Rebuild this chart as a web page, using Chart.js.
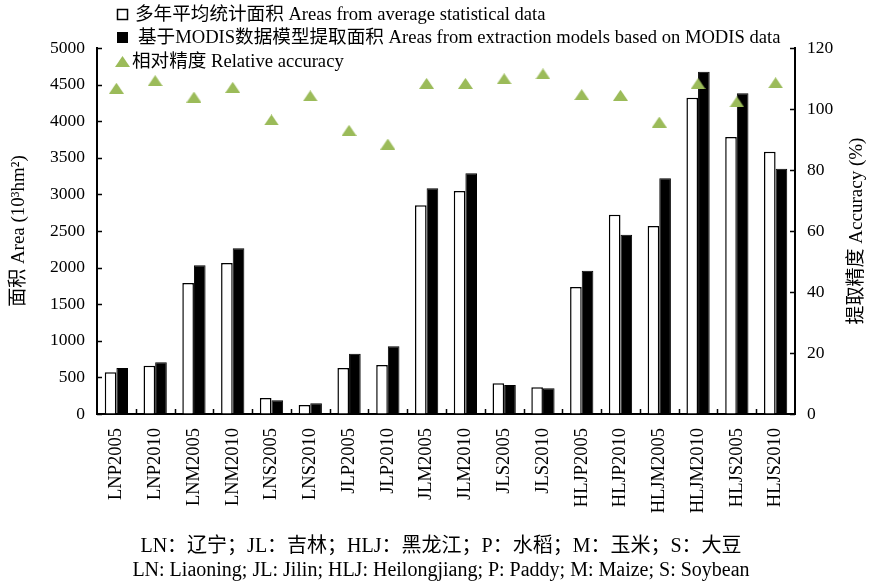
<!DOCTYPE html>
<html>
<head>
<meta charset="utf-8">
<script src="https://cdn.jsdelivr.net/npm/chart.js@4"></script>
<style>
  html, body { margin: 0; padding: 0; background: #fff; }
  #wrap { width: 875px; height: 587px; }
</style>
</head>
<body>
<div id="wrap"><canvas id="c" width="875" height="587"></canvas></div>
<script>
// Crop / province / year codes
const categories = ['LNP2005', 'LNP2010', 'LNM2005', 'LNM2010', 'LNS2005', 'LNS2010',
  'JLP2005', 'JLP2010', 'JLM2005', 'JLM2010', 'JLS2005', 'JLS2010',
  'HLJP2005', 'HLJP2010', 'HLJM2005', 'HLJM2010', 'HLJS2005', 'HLJS2010'];

// Areas (10^3 hm^2)
const statArea = [570, 660, 1790, 2063, 218, 123, 628, 669, 2851, 3046, 419, 364,
  1735, 2723, 2568, 4321, 3784, 3584];
const modisArea = [628, 706, 2031, 2263, 187, 146, 824, 924, 3083, 3288, 396, 351,
  1958, 2450, 3219, 4677, 4381, 3351];

// Relative accuracy (%)
const accuracy = [106.8, 109.3, 103.9, 107.1, 96.4, 104.3, 93.0, 88.5, 108.4, 108.4,
  109.9, 111.5, 104.7, 104.5, 95.7, 108.3, 102.3, 108.6];

// Axis ranges
const areaMax = 5000, areaStep = 500;
const accMax = 120, accStep = 20;

// Text
const seriesNames = ['多年平均统计面积 Areas from average statistical data',
  '基于MODIS数据模型提取面积 Areas from extraction models based on MODIS data',
  '相对精度 Relative accuracy'];
const leftTitle = '面积 Area (10³hm²)';
const rightTitle = '提取精度 Accuracy (%)';
const notes = ['LN：辽宁；JL：吉林；HLJ：黑龙江；P：水稻；M：玉米；S：大豆',
  'LN: Liaoning; JL: Jilin; HLJ: Heilongjiang; P: Paddy; M: Maize; S: Soybean'];

const FONT = "'Liberation Serif', 'Noto Sans CJK SC', serif";
const GREEN = '#9bbb59';

// flattened triangle marker
function makeTriangle(w, h) {
  const cv = document.createElement('canvas');
  cv.width = w; cv.height = h;
  const g = cv.getContext('2d');
  g.fillStyle = GREEN;
  g.beginPath();
  g.moveTo(w / 2, 0);
  g.lineTo(w, h);
  g.lineTo(0, h);
  g.closePath();
  g.fill();
  return cv;
}
const tri = makeTriangle(15, 11);

// inward tick marks, titles, legend and footnotes
const decorations = {
  id: 'decorations',
  afterDraw(chart) {
    const ctx = chart.ctx;
    const area = chart.chartArea;
    const { x, y, y1 } = chart.scales;
    ctx.save();
    ctx.strokeStyle = '#000';
    ctx.lineWidth = 1.5;
    ctx.beginPath();
    y.ticks.forEach(t => {
      const py = Math.round(y.getPixelForValue(t.value)) + 0.5;
      ctx.moveTo(area.left, py); ctx.lineTo(area.left + 5, py);
    });
    y1.ticks.forEach(t => {
      const py = Math.round(y1.getPixelForValue(t.value)) + 0.5;
      ctx.moveTo(area.right, py); ctx.lineTo(area.right - 5, py);
    });
    for (let i = 1; i < categories.length; i++) {
      const px = Math.round((x.getPixelForValue(i - 1) + x.getPixelForValue(i)) / 2) + 0.5;
      ctx.moveTo(px, area.bottom); ctx.lineTo(px, area.bottom - 5);
    }
    ctx.stroke();

    ctx.fillStyle = '#000';
    ctx.textAlign = 'center';
    ctx.textBaseline = 'middle';
    ctx.font = '19px ' + FONT;
    const cy = (area.top + area.bottom) / 2;
    [[19, leftTitle], [857, rightTitle]].forEach(([tx, s]) => {
      ctx.save();
      ctx.translate(tx, cy);
      ctx.rotate(-Math.PI / 2);
      ctx.fillText(s, 0, 0);
      ctx.restore();
    });

    // legend
    const rows = [15, 38, 62];
    ctx.font = '18.6px ' + FONT;
    ctx.textAlign = 'left';
    ctx.lineWidth = 1.5;
    ctx.fillStyle = '#fff';
    ctx.fillRect(117.5, rows[0] - 5.5, 10, 10);
    ctx.strokeRect(117.5, rows[0] - 5.5, 10, 10);
    ctx.fillStyle = '#000';
    ctx.fillRect(117, rows[1] - 6, 11, 11);
    ctx.drawImage(tri, 115, rows[2] - 6);
    ctx.fillText(seriesNames[0], 135, rows[0]);
    ctx.fillText(seriesNames[1], 138, rows[1]);
    ctx.fillText(seriesNames[2], 132, rows[2]);

    // footnotes
    ctx.font = '20px ' + FONT;
    ctx.textAlign = 'center';
    ctx.fillText(notes[0], 441, 547);
    ctx.fillText(notes[1], 441, 571);
    ctx.restore();
  }
};

new Chart(document.getElementById('c'), {
  data: {
    labels: categories,
    datasets: [
      {
        type: 'bar', label: seriesNames[0], data: statArea, yAxisID: 'y', order: 1,
        backgroundColor: '#fff', borderColor: '#000', borderWidth: 1.5
      },
      {
        type: 'bar', label: seriesNames[1], data: modisArea, yAxisID: 'y', order: 1,
        backgroundColor: '#000', borderColor: '#000', borderWidth: 1
      },
      {
        type: 'line', label: seriesNames[2], data: accuracy, yAxisID: 'y1', order: 0,
        showLine: false, pointStyle: tri, pointRadius: 8,
        backgroundColor: GREEN, borderColor: GREEN
      }
    ]
  },
  options: {
    responsive: false,
    animation: false,
    devicePixelRatio: 1,
    layout: { padding: { top: 48, left: 0, right: 0, bottom: 0 } },
    datasets: { bar: { categoryPercentage: 0.6, barPercentage: 1.0 } },
    plugins: { legend: { display: false }, tooltip: { enabled: false } },
    scales: {
      x: {
        type: 'category',
        offset: true,
        grid: { display: true, drawOnChartArea: false, drawTicks: false },
        border: { display: true, color: '#000', width: 2 },
        ticks: {
          autoSkip: false, minRotation: 90, maxRotation: 90, padding: 14,
          color: '#000', font: { family: FONT, size: 18.5 }
        },
        afterFit(s) { s.height = 173; }
      },
      y: {
        position: 'left', min: 0, max: areaMax,
        grid: { display: true, drawOnChartArea: false, drawTicks: false },
        border: { display: true, color: '#000', width: 2 },
        ticks: {
          stepSize: areaStep, padding: 12, color: '#000',
          font: { family: FONT, size: 17.5 },
          callback: v => String(v)
        },
        afterFit(s) { s.width = 97; }
      },
      y1: {
        position: 'right', min: 0, max: accMax,
        grid: { display: true, drawOnChartArea: false, drawTicks: false },
        border: { display: true, color: '#000', width: 2 },
        ticks: {
          stepSize: accStep, padding: 12, color: '#000',
          font: { family: FONT, size: 17.5 },
          callback: v => String(v)
        },
        afterFit(s) { s.width = 80; }
      }
    }
  },
  plugins: [decorations]
});
</script>
</body>
</html>
